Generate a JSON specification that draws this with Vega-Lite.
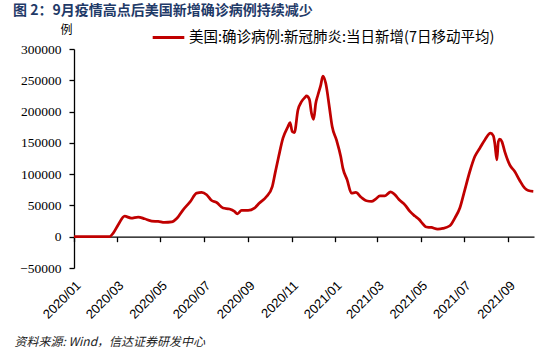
{
  "$schema": "https://vega.github.io/schema/vega-lite/v6.json",
  "width": 460,
  "height": 219,
  "autosize": {"type": "none"},
  "padding": {"left": 74, "top": 49, "right": 22, "bottom": 86},
  "background": "white",
  "title": {
    "text": "图 2：9月疫情高点后美国新增确诊病例持续减少",
    "anchor": "start",
    "frame": "group",
    "dx": -61,
    "dy": 9,
    "font": "Noto Sans CJK SC",
    "fontSize": 14,
    "fontWeight": "bold",
    "color": "#1F3A68",
    "baseline": "alphabetic",
    "offset": 0
  },
  "config": {"view": {"stroke": null}, "axis": {"grid": false}},
  "data": {
    "values": [
      {"date": "2020-01-01", "v": 0, "series": "美国:确诊病例:新冠肺炎:当日新增(7日移动平均)"},
      {"date": "2020-02-20", "v": 300, "series": "美国:确诊病例:新冠肺炎:当日新增(7日移动平均)"},
      {"date": "2020-02-25", "v": 5900, "series": "美国:确诊病例:新冠肺炎:当日新增(7日移动平均)"},
      {"date": "2020-03-03", "v": 19100, "series": "美国:确诊病例:新冠肺炎:当日新增(7日移动平均)"},
      {"date": "2020-03-12", "v": 32800, "series": "美国:确诊病例:新冠肺炎:当日新增(7日移动平均)"},
      {"date": "2020-03-21", "v": 29800, "series": "美国:确诊病例:新冠肺炎:当日新增(7日移动平均)"},
      {"date": "2020-03-31", "v": 31500, "series": "美国:确诊病例:新冠肺炎:当日新增(7日移动平均)"},
      {"date": "2020-04-09", "v": 28700, "series": "美国:确诊病例:新冠肺炎:当日新增(7日移动平均)"},
      {"date": "2020-04-19", "v": 25000, "series": "美国:确诊病例:新冠肺炎:当日新增(7日移动平均)"},
      {"date": "2020-04-28", "v": 24400, "series": "美国:确诊病例:新冠肺炎:当日新增(7日移动平均)"},
      {"date": "2020-05-07", "v": 22800, "series": "美国:确诊病例:新冠肺炎:当日新增(7日移动平均)"},
      {"date": "2020-05-17", "v": 23600, "series": "美国:确诊病例:新冠肺炎:当日新增(7日移动平均)"},
      {"date": "2020-05-24", "v": 29000, "series": "美国:确诊病例:新冠肺炎:当日新增(7日移动平均)"},
      {"date": "2020-06-02", "v": 43000, "series": "美国:确诊病例:新冠肺炎:当日新增(7日移动平均)"},
      {"date": "2020-06-12", "v": 56000, "series": "美国:确诊病例:新冠肺炎:当日新增(7日移动平均)"},
      {"date": "2020-06-21", "v": 69700, "series": "美国:确诊病例:新冠肺炎:当日新增(7日移动平均)"},
      {"date": "2020-06-28", "v": 70700, "series": "美国:确诊病例:新冠肺炎:当日新增(7日移动平均)"},
      {"date": "2020-07-05", "v": 67000, "series": "美国:确诊病例:新冠肺炎:当日新增(7日移动平均)"},
      {"date": "2020-07-12", "v": 57900, "series": "美国:确诊病例:新冠肺炎:当日新增(7日移动平均)"},
      {"date": "2020-07-19", "v": 54700, "series": "美国:确诊病例:新冠肺炎:当日新增(7日移动平均)"},
      {"date": "2020-07-28", "v": 45800, "series": "美国:确诊病例:新冠肺炎:当日新增(7日移动平均)"},
      {"date": "2020-08-06", "v": 44200, "series": "美国:确诊病例:新冠肺炎:当日新增(7日移动平均)"},
      {"date": "2020-08-13", "v": 40400, "series": "美国:确诊病例:新冠肺炎:当日新增(7日移动平均)"},
      {"date": "2020-08-17", "v": 36700, "series": "美国:确诊病例:新冠肺炎:当日新增(7日移动平均)"},
      {"date": "2020-08-23", "v": 42000, "series": "美国:确诊病例:新冠肺炎:当日新增(7日移动平均)"},
      {"date": "2020-09-01", "v": 42000, "series": "美国:确诊病例:新冠肺炎:当日新增(7日移动平均)"},
      {"date": "2020-09-10", "v": 45800, "series": "美国:确诊病例:新冠肺炎:当日新增(7日移动平均)"},
      {"date": "2020-09-17", "v": 53800, "series": "美国:确诊病例:新冠肺炎:当日新增(7日移动平均)"},
      {"date": "2020-09-27", "v": 64300, "series": "美国:确诊病例:新冠肺炎:当日新增(7日移动平均)"},
      {"date": "2020-10-05", "v": 80200, "series": "美国:确诊病例:新冠肺炎:当日新增(7日移动平均)"},
      {"date": "2020-10-09", "v": 101600, "series": "美国:确诊病例:新冠肺炎:当日新增(7日移动平均)"},
      {"date": "2020-10-14", "v": 128100, "series": "美国:确诊病例:新冠肺炎:当日新增(7日移动平均)"},
      {"date": "2020-10-20", "v": 157400, "series": "美国:确诊病例:新冠肺炎:当日新增(7日移动平均)"},
      {"date": "2020-10-27", "v": 176000, "series": "美国:确诊病例:新冠肺炎:当日新增(7日移动平均)"},
      {"date": "2020-10-30", "v": 182300, "series": "美国:确诊病例:新冠肺炎:当日新增(7日移动平均)"},
      {"date": "2020-11-02", "v": 168000, "series": "美国:确诊病例:新冠肺炎:当日新增(7日移动平均)"},
      {"date": "2020-11-05", "v": 166400, "series": "美国:确诊病例:新冠肺炎:当日新增(7日移动平均)"},
      {"date": "2020-11-10", "v": 202600, "series": "美国:确诊病例:新冠肺炎:当日新增(7日移动平均)"},
      {"date": "2020-11-15", "v": 215800, "series": "美国:确诊病例:新冠肺炎:当日新增(7日移动平均)"},
      {"date": "2020-11-20", "v": 222800, "series": "美国:确诊病例:新冠肺炎:当日新增(7日移动平均)"},
      {"date": "2020-11-22", "v": 225000, "series": "美国:确诊病例:新冠肺炎:当日新增(7日移动平均)"},
      {"date": "2020-11-26", "v": 219600, "series": "美国:确诊病例:新冠肺炎:当日新增(7日移动平均)"},
      {"date": "2020-11-29", "v": 197300, "series": "美国:确诊病例:新冠肺炎:当日新增(7日移动平均)"},
      {"date": "2020-12-02", "v": 187700, "series": "美国:确诊病例:新冠肺炎:当日新增(7日移动平均)"},
      {"date": "2020-12-05", "v": 213300, "series": "美国:确诊病例:新冠肺炎:当日新增(7日移动平均)"},
      {"date": "2020-12-08", "v": 226500, "series": "美国:确诊病例:新冠肺炎:当日新增(7日移动平均)"},
      {"date": "2020-12-12", "v": 242400, "series": "美国:确诊病例:新冠肺炎:当日新增(7日移动平均)"},
      {"date": "2020-12-15", "v": 256800, "series": "美国:确诊病例:新冠肺炎:当日新增(7日移动平均)"},
      {"date": "2020-12-19", "v": 245200, "series": "美国:确诊病例:新冠肺炎:当日新增(7日移动平均)"},
      {"date": "2020-12-24", "v": 207800, "series": "美国:确诊病例:新冠肺炎:当日新增(7日移动平均)"},
      {"date": "2020-12-28", "v": 176000, "series": "美国:确诊病例:新冠肺炎:当日新增(7日移动平均)"},
      {"date": "2021-01-03", "v": 154700, "series": "美国:确诊病例:新冠肺炎:当日新增(7日移动平均)"},
      {"date": "2021-01-09", "v": 128100, "series": "美国:确诊病例:新冠肺炎:当日新增(7日移动平均)"},
      {"date": "2021-01-12", "v": 109600, "series": "美国:确诊病例:新冠肺炎:当日新增(7日移动平均)"},
      {"date": "2021-01-18", "v": 90900, "series": "美国:确诊病例:新冠肺炎:当日新增(7日移动平均)"},
      {"date": "2021-01-24", "v": 69700, "series": "美国:确诊病例:新冠肺炎:当日新增(7日移动平均)"},
      {"date": "2021-01-30", "v": 70700, "series": "美国:确诊病例:新冠肺炎:当日新增(7日移动平均)"},
      {"date": "2021-02-07", "v": 62700, "series": "美国:确诊病例:新冠肺炎:当日新增(7日移动平均)"},
      {"date": "2021-02-14", "v": 57400, "series": "美国:确诊病例:新冠肺炎:当日新增(7日移动平均)"},
      {"date": "2021-02-21", "v": 56300, "series": "美国:确诊病例:新冠肺炎:当日新增(7日移动平均)"},
      {"date": "2021-02-27", "v": 60100, "series": "美国:确诊病例:新冠肺炎:当日新增(7日移动平均)"},
      {"date": "2021-03-05", "v": 65400, "series": "美国:确诊病例:新冠肺炎:当日新增(7日移动平均)"},
      {"date": "2021-03-12", "v": 65400, "series": "美国:确诊病例:新冠肺炎:当日新增(7日移动平均)"},
      {"date": "2021-03-20", "v": 71800, "series": "美国:确诊病例:新冠肺炎:当日新增(7日移动平均)"},
      {"date": "2021-03-26", "v": 67000, "series": "美国:确诊病例:新冠肺炎:当日新增(7日移动平均)"},
      {"date": "2021-04-01", "v": 59000, "series": "美国:确诊病例:新冠肺炎:当日新增(7日移动平均)"},
      {"date": "2021-04-09", "v": 51000, "series": "美国:确诊病例:新冠肺炎:当日新增(7日移动平均)"},
      {"date": "2021-04-16", "v": 40400, "series": "美国:确诊病例:新冠肺炎:当日新增(7日移动平均)"},
      {"date": "2021-04-23", "v": 33000, "series": "美国:确诊病例:新冠肺炎:当日新增(7日移动平均)"},
      {"date": "2021-04-29", "v": 27500, "series": "美国:确诊病例:新冠肺炎:当日新增(7日移动平均)"},
      {"date": "2021-05-02", "v": 23400, "series": "美国:确诊病例:新冠肺炎:当日新增(7日移动平均)"},
      {"date": "2021-05-09", "v": 15500, "series": "美国:确诊病例:新冠肺炎:当日新增(7日移动平均)"},
      {"date": "2021-05-16", "v": 14800, "series": "美国:确诊病例:新冠肺炎:当日新增(7日移动平均)"},
      {"date": "2021-05-25", "v": 12300, "series": "美国:确诊病例:新冠肺炎:当日新增(7日移动平均)"},
      {"date": "2021-06-01", "v": 13200, "series": "美国:确诊病例:新冠肺炎:当日新增(7日移动平均)"},
      {"date": "2021-06-11", "v": 17500, "series": "美国:确诊病例:新冠肺炎:当日新增(7日移动平均)"},
      {"date": "2021-06-18", "v": 29800, "series": "美国:确诊病例:新冠肺炎:当日新增(7日移动平均)"},
      {"date": "2021-06-25", "v": 45800, "series": "美国:确诊病例:新冠肺炎:当日新增(7日移动平均)"},
      {"date": "2021-07-02", "v": 75000, "series": "美国:确诊病例:新冠肺炎:当日新增(7日移动平均)"},
      {"date": "2021-07-09", "v": 104200, "series": "美国:确诊病例:新冠肺炎:当日新增(7日移动平均)"},
      {"date": "2021-07-16", "v": 128100, "series": "美国:确诊病例:新冠肺炎:当日新增(7日移动平均)"},
      {"date": "2021-07-23", "v": 141500, "series": "美国:确诊病例:新冠肺炎:当日新增(7日移动平均)"},
      {"date": "2021-07-30", "v": 154700, "series": "美国:确诊病例:新冠肺炎:当日新增(7日移动平均)"},
      {"date": "2021-08-07", "v": 165400, "series": "美国:确诊病例:新冠肺炎:当日新增(7日移动平均)"},
      {"date": "2021-08-11", "v": 161100, "series": "美国:确诊病例:新冠肺炎:当日新增(7日移动平均)"},
      {"date": "2021-08-13", "v": 149500, "series": "美国:确诊病例:新冠肺炎:当日新增(7日移动平均)"},
      {"date": "2021-08-16", "v": 122800, "series": "美国:确诊病例:新冠肺炎:当日新增(7日移动平均)"},
      {"date": "2021-08-18", "v": 152000, "series": "美国:确诊病例:新冠肺炎:当日新增(7日移动平均)"},
      {"date": "2021-08-20", "v": 155800, "series": "美国:确诊病例:新冠肺炎:当日新增(7日移动平均)"},
      {"date": "2021-08-23", "v": 152000, "series": "美国:确诊病例:新冠肺炎:当日新增(7日移动平均)"},
      {"date": "2021-08-27", "v": 136000, "series": "美国:确诊病例:新冠肺炎:当日新增(7日移动平均)"},
      {"date": "2021-09-03", "v": 114800, "series": "美国:确诊病例:新冠肺炎:当日新增(7日移动平均)"},
      {"date": "2021-09-10", "v": 104200, "series": "美国:确诊病例:新冠肺炎:当日新增(7日移动平均)"},
      {"date": "2021-09-17", "v": 89800, "series": "美国:确诊病例:新冠肺炎:当日新增(7日移动平均)"},
      {"date": "2021-09-24", "v": 77700, "series": "美国:确诊病例:新冠肺炎:当日新增(7日移动平均)"},
      {"date": "2021-09-29", "v": 73800, "series": "美国:确诊病例:新冠肺炎:当日新增(7日移动平均)"},
      {"date": "2021-10-06", "v": 72500, "series": "美国:确诊病例:新冠肺炎:当日新增(7日移动平均)"}
    ]
  },
  "mark": {"type": "line", "strokeWidth": 2.75, "interpolate": "monotone"},
  "encoding": {
    "x": {
      "field": "date",
      "type": "temporal",
      "scale": {
        "type": "utc",
        "domain": [
          {"year": 2020, "month": 1, "date": 1, "utc": true},
          {"year": 2021, "month": 10, "date": 7, "utc": true}
        ]
      },
      "axis": {
        "values": [
          {"year": 2020, "month": 1, "date": 1, "utc": true},
          {"year": 2020, "month": 3, "date": 1, "utc": true},
          {"year": 2020, "month": 5, "date": 1, "utc": true},
          {"year": 2020, "month": 7, "date": 1, "utc": true},
          {"year": 2020, "month": 9, "date": 1, "utc": true},
          {"year": 2020, "month": 11, "date": 1, "utc": true},
          {"year": 2021, "month": 1, "date": 1, "utc": true},
          {"year": 2021, "month": 3, "date": 1, "utc": true},
          {"year": 2021, "month": 5, "date": 1, "utc": true},
          {"year": 2021, "month": 7, "date": 1, "utc": true},
          {"year": 2021, "month": 9, "date": 1, "utc": true}
        ],
        "format": "%Y/%m",
        "labelAngle": -45,
        "labelFont": "Liberation Sans",
        "labelFontSize": 13,
        "labelColor": "black",
        "labelFlush": false,
        "labelOverlap": false,
        "labelPadding": 37,
        "domainColor": "black",
        "domainWidth": 1.3,
        "tickColor": "black",
        "tickWidth": 1.3,
        "tickSize": 5,
        "offset": -31.3,
        "title": "资料来源: Wind，信达证券研发中心",
        "titleFont": "Noto Sans CJK SC",
        "titleFontSize": 12,
        "titleFontStyle": "italic",
        "titleFontWeight": "normal",
        "titleColor": "#222222",
        "titleAnchor": "start",
        "titleAlign": "left",
        "titleBaseline": "alphabetic",
        "titleX": -60,
        "titleY": 109
      }
    },
    "y": {
      "field": "v",
      "type": "quantitative",
      "scale": {"domain": [-50000, 300000], "nice": false, "zero": false},
      "axis": {
        "values": [-50000, 0, 50000, 100000, 150000, 200000, 250000, 300000],
        "format": "d",
        "labelFont": "Liberation Serif",
        "labelFontSize": 13.5,
        "labelColor": "black",
        "labelPadding": 8,
        "domainColor": "black",
        "domainWidth": 1.3,
        "tickColor": "black",
        "tickWidth": 1.3,
        "tickSize": 5,
        "title": "例",
        "titleAngle": 0,
        "titleX": -8,
        "titleY": -16,
        "titleAlign": "center",
        "titleBaseline": "alphabetic",
        "titleFont": "Noto Sans CJK SC",
        "titleFontSize": 12,
        "titleFontWeight": "normal",
        "titleColor": "black"
      }
    },
    "color": {
      "field": "series",
      "type": "nominal",
      "scale": {"range": ["#C00000"]},
      "legend": {
        "orient": "none",
        "legendX": 77,
        "legendY": -29,
        "title": null,
        "symbolType": "stroke",
        "symbolSize": 1000,
        "symbolStrokeWidth": 3,
        "labelFont": "Noto Sans CJK SC",
        "labelFontSize": 14.5,
        "labelColor": "black",
        "labelOffset": 3,
        "labelLimit": 500,
        "padding": 0
      }
    }
  }
}
